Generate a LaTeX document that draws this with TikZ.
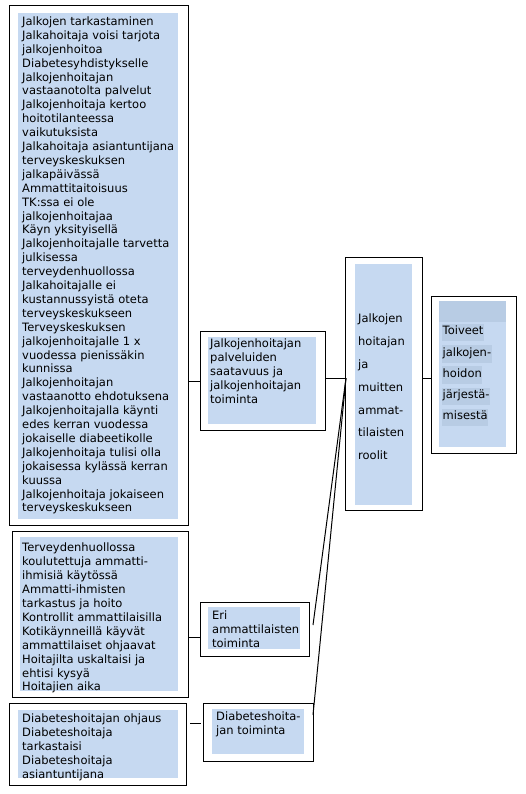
\documentclass[tikz,border=0pt]{standalone}
\usepackage{fontspec}
\setmainfont{DejaVu Sans}
\usetikzlibrary{positioning}
\definecolor{paleblue}{HTML}{C6D9F1}
\definecolor{deepblue}{HTML}{B8CCE4}
\newcommand{\hlrow}[1]{{\setlength{\fboxsep}{0.5pt}\colorbox{deepblue}{\rule[-6pt]{0pt}{16.5pt}#1}}}

\begin{document}
\begin{tikzpicture}[x=1pt, y=-1pt,
    frame/.style={draw, line width=1pt, anchor=north west, inner sep=0pt},
    listtext/.style={anchor=north west, inner sep=0pt, align=left, font=\fontsize{11.5}{13.9}\selectfont},
    widetext/.style={listtext, font=\fontsize{11.5}{22.8}\selectfont},
    link/.style={line width=1pt}]
    \useasboundingbox (0,0) rectangle (525,794);

    % Blue fills
    \fill[paleblue] (18,13) rectangle (178,519);
    \fill[paleblue] (208,337) rectangle (316,424);
    \fill[paleblue] (20,537) rectangle (178,691);
    \fill[paleblue] (208,607) rectangle (300,649);
    \fill[paleblue] (18,710) rectangle (178,778);
    \fill[paleblue] (212,709) rectangle (304,754);
    \fill[paleblue] (355,264) rectangle (412,505);
    \fill[paleblue] (439,301) rectangle (506,447);
    \fill[deepblue] (439,301) rectangle (506,322);

    % Frames
    \node[frame, minimum width=179pt, minimum height=520pt] (quotes) at (9,5) {};
    \node[frame, minimum width=125pt, minimum height=99pt] (access) at (200,331) {};
    \node[frame, minimum width=176pt, minimum height=166pt] (staff) at (12,531) {};
    \node[frame, minimum width=109pt, minimum height=54pt] (roles) at (200,602) {};
    \node[frame, minimum width=177pt, minimum height=82pt] (nurseq) at (9,703) {};
    \node[frame, minimum width=110pt, minimum height=58pt] (nurse) at (203,703) {};
    \node[frame, minimum width=77pt, minimum height=253pt] (hub) at (345,257) {};
    \node[frame, minimum width=85pt, minimum height=157pt] (wishes) at (431,296) {};

    % Texts
    \node[listtext] (quotestext) at (22,16.5) {Jalkojen tarkastaminen\\Jalkahoitaja voisi tarjota\\jalkojenhoitoa\\Diabetesyhdistykselle\\Jalkojenhoitajan\\vastaanotolta palvelut\\Jalkojenhoitaja kertoo\\hoitotilanteessa\\vaikutuksista\\Jalkahoitaja asiantuntijana\\terveyskeskuksen\\jalkapäivässä\\Ammattitaitoisuus\\TK:ssa ei ole\\jalkojenhoitajaa\\Käyn yksityisellä\\Jalkojenhoitajalle tarvetta\\julkisessa\\terveydenhuollossa\\Jalkahoitajalle ei\\kustannussyistä oteta\\terveyskeskukseen\\Terveyskeskuksen\\jalkojenhoitajalle 1 x\\vuodessa pienissäkin\\kunnissa\\Jalkojenhoitajan\\vastaanotto ehdotuksena\\Jalkojenhoitajalla käynti\\edes kerran vuodessa\\jokaiselle diabeetikolle\\Jalkojenhoitaja tulisi olla\\jokaisessa kylässä kerran\\kuussa\\Jalkojenhoitaja jokaiseen\\terveyskeskukseen};
    \node[listtext] (accesstext) at (210,339) {Jalkojenhoitajan\\palveluiden\\saatavuus ja\\jalkojenhoitajan\\toiminta};
    \node[listtext] (stafftext) at (22,543) {Terveydenhuollossa\\koulutettuja ammatti-\\ihmisiä käytössä\\Ammatti-ihmisten\\tarkastus ja hoito\\Kontrollit ammattilaisilla\\Kotikäynneillä käyvät\\ammattilaiset ohjaavat\\Hoitajilta uskaltaisi ja\\ehtisi kysyä\\Hoitajien aika};
    \node[listtext] (rolestext) at (212,611) {Eri\\ammattilaisten\\toiminta};
    \node[listtext] (nurseqtext) at (22,714) {Diabeteshoitajan ohjaus\\Diabeteshoitaja\\tarkastaisi\\Diabeteshoitaja\\asiantuntijana};
    \node[listtext] (nursetext) at (216,712) {Diabeteshoita-\\jan toiminta};
    \node[widetext] (hubtext) at (358,314) {Jalkojen\\hoitajan\\ja\\muitten\\ammat-\\tilaisten\\roolit};
    \node[listtext, font=\fontsize{11.5}{21.3}\selectfont] (wishestext) at (442,323.5) {\hlrow{Toiveet}\\\hlrow{jalkojen-}\\\hlrow{hoidon}\\\hlrow{järjestä-}\\\hlrow{misestä}};

    % Connectors
    \coordinate (hubin) at (346,378);
    \coordinate (hubout) at (422,378);
    \coordinate (rolesin) at (200,637);
    \coordinate (rolesout) at (313,625);
    \coordinate (nursein) at (201,723);
    \coordinate (nurseqout) at (190,723);
    \coordinate (nurseout) at (313,715);

    \draw[link] (access.west -| quotes.east) -- (access.west);
    \draw[link] (rolesin -| staff.east) -- (rolesin);
    \draw[link] (nurseqout) -- (nursein);
    \draw[link] (hubin -| access.east) -- (hubin);
    \draw[link] (rolesout) -- (hubin);
    \draw[link] (nurseout) -- (hubin);
    \draw[link] (hubout) -- (hubout -| wishes.west);
\end{tikzpicture}
\end{document}
